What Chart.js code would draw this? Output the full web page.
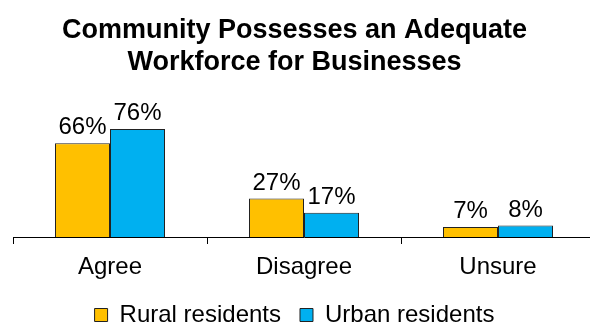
<!DOCTYPE html>
<html>
<head>
<meta charset="utf-8">
<script src="https://cdn.jsdelivr.net/npm/chart.js@4/dist/chart.umd.min.js"></script>
<style>
  html, body { margin: 0; padding: 0; background: #fff; overflow: hidden; }
  #wrap { width: 596px; height: 329px; }
</style>
</head>
<body>
<div id="wrap"><canvas id="myChart" width="596" height="329"></canvas></div>
<script>
const categories = ['Agree', 'Disagree', 'Unsure'];
const ruralValues = [66, 27, 7];
const urbanValues = [76, 17, 8];
const seriesNames = ['Rural residents', 'Urban residents'];
const titleLines = ['Community Possesses an Adequate', 'Workforce for Businesses'];

const FONT = '"Liberation Sans", Arial, sans-serif';

// подписи над столбиками
const valueLabels = {
  id: 'valueLabels',
  afterDatasetsDraw(chart) {
    const ctx = chart.ctx;
    ctx.save();
    ctx.font = '24px ' + FONT;
    ctx.fillStyle = '#000';
    ctx.textAlign = 'center';
    ctx.textBaseline = 'alphabetic';
    chart.data.datasets.forEach((ds, i) => {
      chart.getDatasetMeta(i).data.forEach((bar, j) => {
        ctx.fillText(ds.data[j] + '%', bar.x, bar.y - 9);
      });
    });
    ctx.restore();
  }
};

const ctx = document.getElementById('myChart').getContext('2d');
new Chart(ctx, {
  type: 'bar',
  data: {
    labels: categories,
    datasets: [{
      label: seriesNames[0],
      data: ruralValues,
      backgroundColor: '#FFC000',
      borderColor: '#222',
      borderWidth: 1
    }, {
      label: seriesNames[1],
      data: urbanValues,
      backgroundColor: '#00B0F0',
      borderColor: '#222',
      borderWidth: 1
    }]
  },
  options: {
    responsive: false,
    animation: false,
    layout: { padding: { left: -6, right: 1, top: 0, bottom: 0 } },
    categoryPercentage: 0.567,
    barPercentage: 1,
    plugins: {
      title: {
        display: true,
        text: titleLines,
        color: '#000',
        font: { family: FONT, size: 27, weight: 'bold', lineHeight: 1.2 },
        padding: { top: 14, bottom: 16 }
      },
      legend: {
        position: 'bottom',
        maxHeight: 45,
        labels: {
          color: '#000',
          font: { family: FONT, size: 24 },
          boxWidth: 13,
          boxHeight: 13,
          padding: 19
        }
      },
      tooltip: { enabled: false }
    },
    scales: {
      // невидимая ось y, только держит отступ слева
      y: {
        min: 0,
        max: 100,
        afterFit(scale) { scale.width = 19; },
        ticks: { display: false },
        grid: { display: false },
        border: { display: false }
      },
      x: {
        afterFit(scale) { scale.height = 47; },
        border: { color: '#000', width: 1 },
        grid: { drawOnChartArea: false, color: '#000', tickLength: 7, offset: true },
        ticks: {
          color: '#000',
          padding: 9,
          font: { family: FONT, size: 24 }
        }
      }
    }
  },
  plugins: [valueLabels]
});
</script>
</body>
</html>
